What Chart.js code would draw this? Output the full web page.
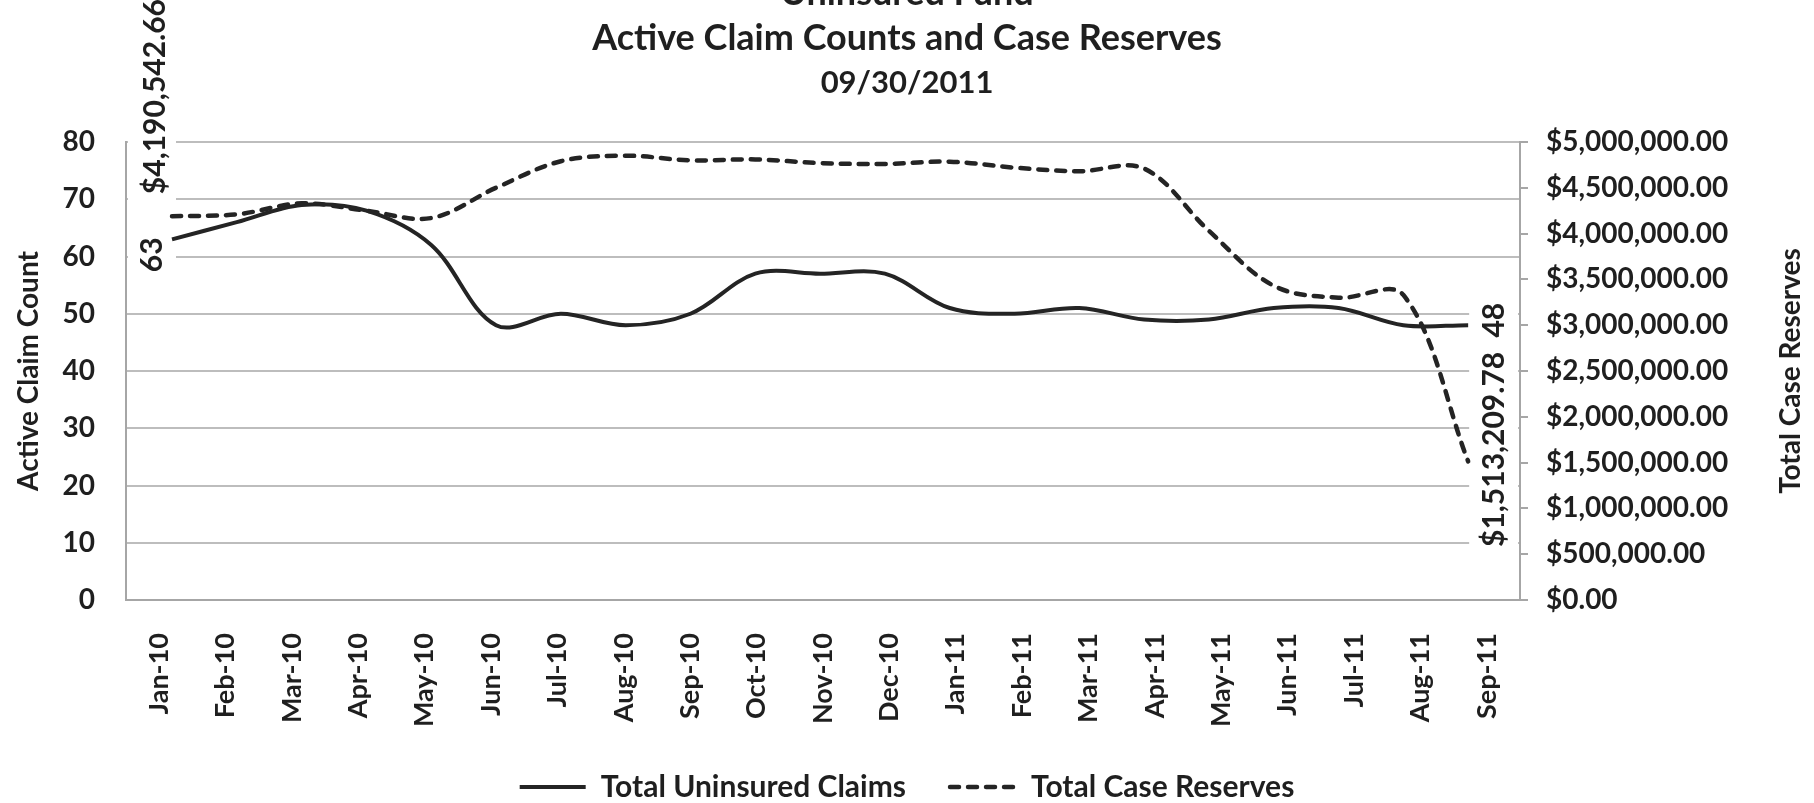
<!DOCTYPE html>
<html>
<head>
<meta charset="utf-8">
<title>Uninsured Fund - Active Claim Counts and Case Reserves</title>
<script src="https://cdn.jsdelivr.net/npm/chart.js@4.4.0/dist/chart.umd.min.js"></script>
<style>
  html, body { margin: 0; padding: 0; background: #fff; overflow: hidden; }
  body { width: 1814px; height: 803px; position: relative; }
  /* canvas starts above the window so the first title line is cut, like the scan */
  #wrap { position: absolute; left: 0; top: -52px; width: 1814px; height: 864px; }
</style>
</head>
<body>
<div id="wrap"><canvas id="chart"></canvas></div>
<script>
// data
const months = ['Jan-10', 'Feb-10', 'Mar-10', 'Apr-10', 'May-10', 'Jun-10', 'Jul-10',
                'Aug-10', 'Sep-10', 'Oct-10', 'Nov-10', 'Dec-10', 'Jan-11', 'Feb-11',
                'Mar-11', 'Apr-11', 'May-11', 'Jun-11', 'Jul-11', 'Aug-11', 'Sep-11'];
const claims = [63, 66, 69, 68, 62, 48, 50, 48, 50, 57, 57, 57, 51, 50, 51, 49, 49, 51, 51, 48, 48];
const reserves = [4190542.66, 4210000, 4330000, 4250000, 4170000, 4500000, 4790000, 4850000,
                  4800000, 4810000, 4770000, 4760000, 4785000, 4720000, 4680000, 4710000,
                  4030000, 3430000, 3300000, 3330000, 1513209.78];
const titleLines = ['Uninsured Fund', 'Active Claim Counts and Case Reserves'];
const dateLine = '09/30/2011';
const seriesNames = ['Total Uninsured Claims', 'Total Case Reserves'];
const leftTitle = 'Active Claim Count';
const rightTitle = 'Total Case Reserves';

const FONT = 'Lato, "Open Sans", sans-serif';
const ink = '#1f1f1f';
const lineInk = '#242424';
const gridGray = '#bdbdbd';
const axisGray = '#a6a6a6';

function money(v) {
    return '$' + Number(v).toLocaleString('en-US', { minimumFractionDigits: 2, maximumFractionDigits: 2 });
}

function vText(ctx, text, x, y, align) {
    ctx.save();
    ctx.translate(x, y);
    ctx.rotate(-Math.PI / 2);
    ctx.textAlign = align;
    ctx.textBaseline = 'middle';
    ctx.fillText(text, 0, 0);
    ctx.restore();
}

// end labels, white boxes behind them, and the right axis title
const endLabels = {
    id: 'endLabels',
    beforeDatasetsDraw(chart) {
        const { ctx, chartArea: a } = chart;
        const c = chart.getDatasetMeta(0).data;
        const first = c[0], last = c[c.length - 1];
        ctx.save();
        ctx.fillStyle = '#fff';
        ctx.fillRect(a.left + 2, a.top - 4, first.x + 4 - a.left - 2, first.y + 26 - a.top + 4);
        ctx.fillRect(last.x + 1, last.y - 35, a.right - 2 - last.x - 1, a.bottom - 3 - (last.y - 35));
        ctx.restore();
    },
    afterDatasetsDraw(chart) {
        const { ctx, chartArea: a } = chart;
        const c = chart.getDatasetMeta(0).data;
        const r = chart.getDatasetMeta(1).data;
        const n = c.length - 1;
        ctx.save();
        ctx.fillStyle = ink;
        ctx.font = 'bold 30px ' + FONT;
        vText(ctx, String(claims[0]), c[0].x - 20, c[0].y - 2, 'right');
        vText(ctx, money(reserves[0]), r[0].x - 17, r[0].y - 22, 'left');
        vText(ctx, String(claims[n]), c[n].x + 26, c[n].y - 5, 'center');
        vText(ctx, money(reserves[n]), r[n].x + 26, r[n].y - 12, 'center');
        ctx.font = 'bold 28px ' + FONT;
        vText(ctx, rightTitle, chart.width - 23, (a.top + a.bottom) / 2, 'center');
        ctx.restore();
    }
};

const ctx = document.getElementById('chart').getContext('2d');
const chart = new Chart(ctx, {
    type: 'line',
    data: {
        labels: months,
        datasets: [{
            label: seriesNames[0],
            data: claims.map((v, i) => ({ x: i, y: v })),
            xAxisID: 'x',
            yAxisID: 'y',
            borderColor: lineInk,
            borderWidth: 4,
            pointRadius: 0,
            tension: 0.35,
            fill: false
        }, {
            label: seriesNames[1],
            data: reserves.map((v, i) => ({ x: i, y: v })),
            xAxisID: 'x',
            yAxisID: 'y1',
            borderColor: lineInk,
            borderWidth: 4.5,
            borderDash: [9, 9],
            borderCapStyle: 'round',
            pointRadius: 0,
            tension: 0.35,
            fill: false
        }]
    },
    options: {
        responsive: true,
        maintainAspectRatio: false,
        animation: false,
        layout: { padding: 0 },
        plugins: {
            title: {
                display: true,
                text: titleLines,
                color: ink,
                font: { family: FONT, size: 36, weight: 'bold', lineHeight: 1.25 },
                padding: { top: 22.5, bottom: 0 }
            },
            subtitle: {
                display: true,
                text: dateLine,
                color: ink,
                font: { family: FONT, size: 31, weight: 'bold', lineHeight: 45 / 31 },
                padding: { top: 0, bottom: 36.5 }
            },
            legend: {
                position: 'bottom',
                labels: {
                    usePointStyle: true,
                    pointStyleWidth: 66,
                    padding: 44,
                    color: ink,
                    font: { family: FONT, size: 30, weight: 'bold' },
                    generateLabels: (ch) => ch.data.datasets.map((ds, i) => ({
                        text: ds.label,
                        fillStyle: ds.borderColor,
                        strokeStyle: ds.borderColor,
                        lineWidth: ds.borderWidth,
                        lineDash: ds.borderDash || [],
                        lineCap: ds.borderCapStyle || 'butt',
                        pointStyle: 'line',
                        fontColor: ink,
                        datasetIndex: i,
                        hidden: false
                    }))
                }
            },
            tooltip: { enabled: false }
        },
        scales: {
            // positions the points; the scan's line ends sit inside the category centres
            x: {
                type: 'linear',
                display: false,
                min: -0.71,
                max: 20.8
            },
            // month labels at the category centres
            xl: {
                type: 'category',
                position: 'bottom',
                offset: true,
                grid: { display: false, drawTicks: false },
                border: { display: true, color: axisGray, width: 2 },
                ticks: {
                    autoSkip: false,
                    minRotation: 90,
                    maxRotation: 90,
                    padding: 33,
                    color: ink,
                    font: { family: FONT, size: 27, weight: 'bold' }
                },
                afterFit: (s) => { s.height = 128; }
            },
            y: {
                position: 'left',
                min: 0,
                max: 80,
                grid: { color: gridGray, lineWidth: 2, drawTicks: false },
                border: { display: true, color: axisGray, width: 2 },
                ticks: {
                    stepSize: 10,
                    padding: 31,
                    color: ink,
                    font: { family: FONT, size: 28, weight: 'bold' }
                },
                title: {
                    display: true,
                    text: leftTitle,
                    color: ink,
                    font: { family: FONT, size: 28, weight: 'bold' },
                    padding: { top: 12, bottom: 0 }
                },
                afterFit: (s) => { s.width = 126; }
            },
            y1: {
                position: 'right',
                min: 0,
                max: 5000000,
                grid: { drawOnChartArea: false, drawTicks: true, tickLength: 8, color: axisGray, lineWidth: 2 },
                border: { display: true, color: axisGray, width: 2 },
                ticks: {
                    stepSize: 500000,
                    padding: 18,
                    color: ink,
                    font: { family: FONT, size: 28, weight: 'bold' },
                    callback: (v) => money(v)
                },
                afterFit: (s) => { s.width = 294; }
            }
        }
    },
    plugins: [endLabels]
});
</script>
</body>
</html>
